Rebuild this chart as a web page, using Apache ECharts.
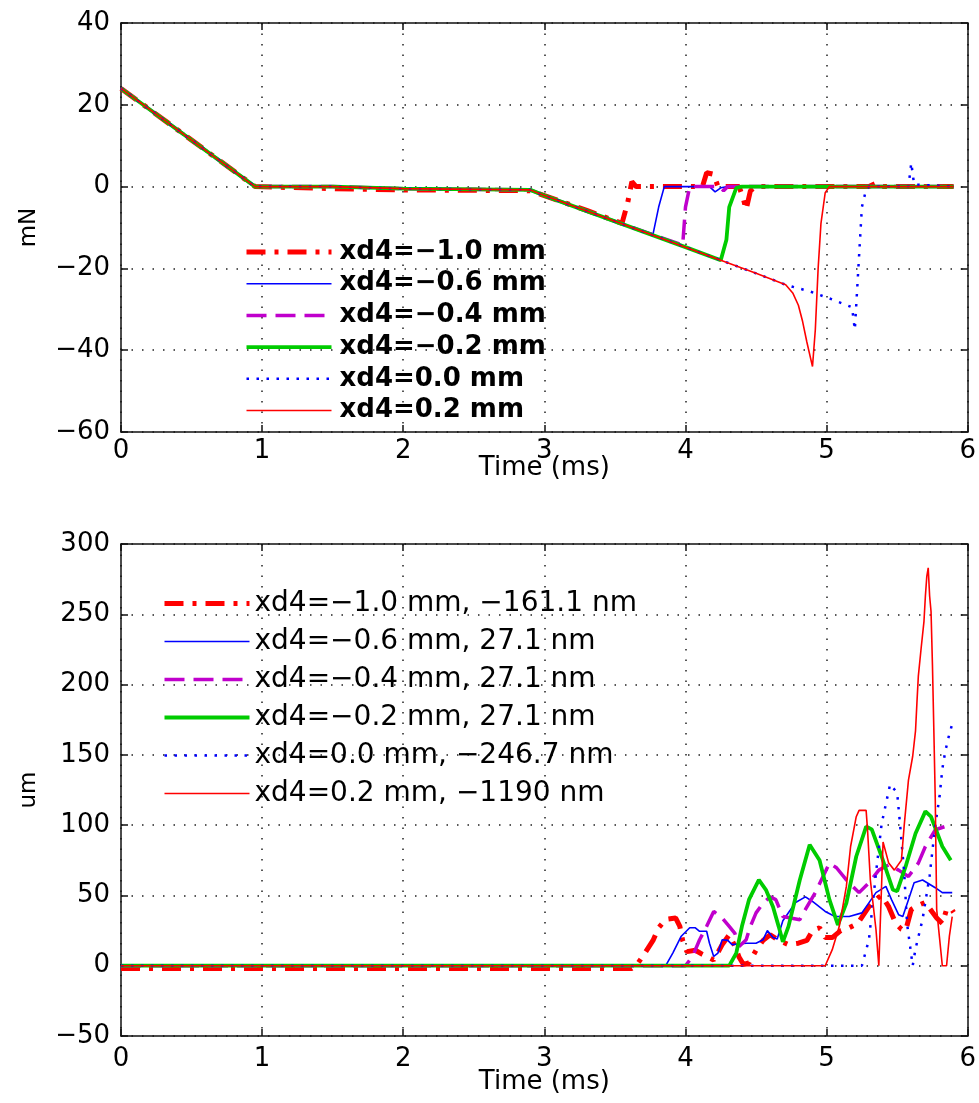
<!DOCTYPE html>
<html>
<head>
<meta charset="utf-8">
<title>force and displacement</title>
<script src="https://cdn.jsdelivr.net/npm/echarts@6/dist/echarts.min.js"></script>
<style>
  html, body { margin: 0; padding: 0; background: #fff; }
  #chart { width: 979px; height: 1103px; }
</style>
</head>
<body>
<div id="chart"></div>
<script>
// ---- data: [time ms, value] ----
// top: force (mN)
var forceM10 = [[0,24],[0.95,0],[1.5,-0.5],[2.0,-0.8],[2.9,-1.0],[3.0,-2.2],[3.3,-5.8],[3.55,-9],[3.59,-4],[3.62,1.2],[3.65,0],[4.12,0],[4.15,3.4],[4.2,3.0],[4.23,0],[4.38,0],[4.41,-3],[4.43,-5.6],[4.46,-1],[4.5,0],[5.3,0],[5.35,0.8],[5.4,0],[5.9,0]];
var forceM06 = [[0,24],[0.95,0],[1.5,0],[2.0,-0.5],[2.9,-0.8],[3.0,-2.2],[3.5,-8.5],[3.77,-11.6],[3.81,-5],[3.85,0],[4.17,0],[4.21,-1.3],[4.25,-0.3],[4.3,0],[5.9,0]];
var forceM04 = [[0,24],[0.95,0],[1.5,0],[2.0,-0.5],[2.9,-0.8],[3.0,-2.2],[3.5,-8.5],[3.98,-14.3],[4.0,-5],[4.03,0],[4.24,0],[4.27,-1],[4.3,0],[5.9,0]];
var forceM02 = [[0,24],[0.95,0],[1.5,0],[2.0,-0.5],[2.9,-0.8],[3.0,-2.2],[3.5,-8.5],[4.0,-14.8],[4.25,-18],[4.29,-13],[4.31,-5],[4.36,-0.3],[4.4,0],[5.9,0]];
var force00  = [[0,24],[0.95,0],[1.5,0],[2.0,-0.5],[2.9,-0.8],[3.0,-2.2],[3.5,-8.5],[4.0,-14.8],[4.25,-18],[4.5,-21.2],[4.71,-24],[4.76,-24.5],[4.88,-25.6],[5.04,-27.6],[5.18,-29.5],[5.2,-35],[5.23,-17],[5.25,-5],[5.28,-0.7],[5.3,0],[5.58,0],[5.6,5.8],[5.62,0.5],[5.9,0]];
var force02  = [[0,24],[0.95,0],[1.5,0],[2.0,-0.5],[2.9,-0.8],[3.0,-2.2],[3.5,-8.5],[4.0,-14.8],[4.25,-18],[4.5,-21.2],[4.71,-24],[4.76,-26],[4.8,-29],[4.83,-33],[4.86,-38],[4.9,-44],[4.92,-35],[4.94,-20],[4.96,-9],[4.99,-1.5],[5.02,0],[5.9,0]];

// bottom: displacement (um)
var dispM10 = [[0,-2],[3.62,-2],[3.65,0],[3.70,7],[3.77,18],[3.81,27],[3.86,33],[3.93,34],[3.96,28],[3.98,18],[4.01,10],[4.07,11],[4.12,8],[4.2,4],[4.26,15],[4.31,22],[4.35,14],[4.38,6],[4.41,1],[4.45,2],[4.5,11],[4.55,18],[4.6,22],[4.66,18],[4.73,15],[4.8,16],[4.86,18],[4.9,25],[4.95,27],[4.99,20],[5.04,20],[5.1,25],[5.16,27],[5.22,30],[5.3,42],[5.36,48],[5.39,50],[5.44,42],[5.49,30],[5.53,26],[5.56,25],[5.6,40],[5.65,43],[5.7,45],[5.75,38],[5.78,34],[5.82,30],[5.85,40],[5.88,41],[5.9,38]];
var dispM06 = [[0,0],[3.86,0],[3.91,9],[3.97,21],[4.03,27],[4.07,27],[4.10,24.5],[4.15,24.5],[4.17,16],[4.20,6.6],[4.23,9],[4.26,18.5],[4.3,18],[4.33,15],[4.43,16],[4.5,16],[4.55,18.5],[4.58,25],[4.62,20],[4.65,19],[4.69,32],[4.78,45],[4.85,49],[4.9,45.7],[4.99,38.6],[5.06,35],[5.16,35],[5.25,37.6],[5.35,52],[5.42,56.4],[5.46,47],[5.51,36.3],[5.54,35],[5.58,47],[5.62,59],[5.68,61],[5.77,55.5],[5.82,52],[5.89,52]];
var dispM04 = [[0,0],[4.0,0],[4.05,6.6],[4.10,18.5],[4.15,28],[4.2,38.6],[4.26,34],[4.31,28],[4.35,23],[4.38,13.7],[4.43,18.5],[4.46,28],[4.5,37.6],[4.55,44.6],[4.6,49],[4.64,47],[4.69,35],[4.81,32.7],[4.85,40],[4.92,52],[5.02,73],[5.07,69.7],[5.14,61],[5.23,52],[5.3,59],[5.37,68],[5.44,71.8],[5.51,68],[5.58,63.5],[5.65,73],[5.7,84.8],[5.77,96.7],[5.84,99],[5.88,98]];
var dispM02 = [[0,0],[4.31,0],[4.36,9],[4.40,28],[4.45,47],[4.52,61],[4.57,54],[4.62,42],[4.66,28],[4.69,17],[4.73,28],[4.81,61],[4.88,86],[4.95,75],[5.02,47],[5.08,29],[5.14,44.6],[5.21,77.7],[5.28,99],[5.32,97],[5.39,77.7],[5.47,54],[5.5,53],[5.56,70.6],[5.63,94],[5.70,109.8],[5.74,106],[5.82,84.8],[5.88,75]];
var disp00  = [[0,0],[5.25,0],[5.30,18.5],[5.35,66],[5.39,101],[5.45,129],[5.50,123],[5.52,101],[5.55,66],[5.57,30],[5.61,0],[5.63,12],[5.68,33],[5.73,64],[5.77,100],[5.80,120],[5.82,140],[5.84,152],[5.86,161],[5.89,172]];
var disp02  = [[0,0],[4.99,0],[5.04,11.4],[5.09,28],[5.14,56.4],[5.17,84.8],[5.21,106],[5.23,110.5],[5.28,110.5],[5.29,96.7],[5.31,61],[5.35,25.6],[5.37,0],[5.38,0],[5.40,88],[5.44,73],[5.48,68],[5.53,75],[5.55,100],[5.58,132],[5.61,149],[5.63,167],[5.64,187],[5.65,206],[5.67,226],[5.69,245],[5.70,263],[5.71,277],[5.72,283],[5.73,263],[5.74,252],[5.75,214],[5.76,167],[5.77,118],[5.78,40],[5.80,20],[5.82,0],[5.85,0],[5.87,21],[5.89,35]];

var forceNames = ['xd4=\u22121.0 mm','xd4=\u22120.6 mm','xd4=\u22120.4 mm','xd4=\u22120.2 mm','xd4=0.0 mm','xd4=0.2 mm'];
var dispNames = ['xd4=\u22121.0 mm, \u2212161.1 nm','xd4=\u22120.6 mm, 27.1 nm','xd4=\u22120.4 mm, 27.1 nm','xd4=\u22120.2 mm, 27.1 nm','xd4=0.0 mm, \u2212246.7 nm','xd4=0.2 mm, \u22121190 nm'];

// line look per curve (same order in both plots)
var looks = [
  {color:'#ff0000', width:5, type:[19,9,4,9]},
  {color:'#0000ff', width:1.6, type:'solid'},
  {color:'#c000cc', width:3.5, type:[20,9]},
  {color:'#00cc00', width:3.8, type:'solid'},
  {color:'#0000ff', width:2.5, type:[2.5,7.5]},
  {color:'#ff0000', width:1.6, type:'solid'}
];

var font = 'DejaVu Sans';
function minus(v){ return String(v).replace('-', '\u2212'); }

function mainX(grid, gap, margin){
  return {
    gridIndex: grid, type:'value', min:0, max:6, interval:1, position:'bottom',
    name:'Time (ms)', nameLocation:'middle', nameGap:gap, nameMoveOverlap:false,
    nameTextStyle:{fontFamily:font, fontSize:26, color:'#000'},
    axisLine:{show:true, onZero:false, lineStyle:{color:'#111', width:1.5}},
    axisTick:{show:true, inside:true, length:7, lineStyle:{color:'#111', width:1.5}},
    axisLabel:{fontFamily:font, fontSize:26, color:'#000', margin:margin, formatter:minus},
    splitLine:{show:true, lineStyle:{color:'#222', width:1.5, type:[1.5,9]}}
  };
}
function mainY(grid, lo, hi, step, title){
  return {
    gridIndex: grid, type:'value', min:lo, max:hi, interval:step, position:'left',
    name:title, nameLocation:'middle', nameGap:80, nameMoveOverlap:false,
    nameTextStyle:{fontFamily:font, fontSize:23, color:'#000'},
    axisLine:{show:true, onZero:false, lineStyle:{color:'#111', width:1.5}},
    axisTick:{show:true, inside:true, length:7, lineStyle:{color:'#111', width:1.5}},
    axisLabel:{fontFamily:font, fontSize:26, color:'#000', margin:11, formatter:minus},
    splitLine:{show:true, lineStyle:{color:'#222', width:1.5, type:[1.5,9]}}
  };
}
function frameX(grid){
  return {
    gridIndex: grid, type:'value', min:0, max:6, interval:1, position:'top',
    axisLine:{show:true, onZero:false, lineStyle:{color:'#111', width:1.5}},
    axisTick:{show:true, inside:true, length:7, lineStyle:{color:'#111', width:1.5}},
    axisLabel:{show:false}, splitLine:{show:false}
  };
}
function frameY(grid, lo, hi, step){
  return {
    gridIndex: grid, type:'value', min:lo, max:hi, interval:step, position:'right',
    axisLine:{show:true, onZero:false, lineStyle:{color:'#111', width:1.5}},
    axisTick:{show:true, inside:true, length:7, lineStyle:{color:'#111', width:1.5}},
    axisLabel:{show:false}, splitLine:{show:false}
  };
}

function makeSeries(names, datas, xi, yi){
  return names.map(function(n, i){
    var lk = looks[i];
    return {
      name:n, type:'line', data:datas[i], xAxisIndex:xi, yAxisIndex:yi,
      symbol:'none', showSymbol:false, smooth:false, animation:false,
      lineStyle:{color:lk.color, width:lk.width, type:lk.type},
      itemStyle:{color:lk.color}
    };
  });
}
// legend entries: line only, same width and dash as the curve
function legendItems(names){
  return names.map(function(n, i){
    var lk = looks[i];
    return {
      name:n,
      itemStyle:{opacity:0},
      lineStyle:{color:lk.color, width:lk.width, type:lk.type}
    };
  });
}

var chart = echarts.init(document.getElementById('chart'));
var option = {
  backgroundColor:'#fff',
  animation:false,
  grid:[
    {left:121, top:23, width:848, height:409},
    {left:121, top:544, width:848, height:492}
  ],
  xAxis:[mainX(0, 23, 6), frameX(0), mainX(1, 33, 10), frameX(1)],
  yAxis:[mainY(0, -60, 40, 20, 'mN'), frameY(0, -60, 40, 20), mainY(1, -50, 300, 50, 'um'), frameY(1, -50, 300, 50)],
  legend:[
    {
      data:legendItems(forceNames), orient:'vertical', left:244, top:239, padding:0,
      itemWidth:85, itemHeight:14, itemGap:5.7, selectedMode:false,
      textStyle:{fontFamily:font, fontWeight:'bold', fontSize:26, color:'#000', padding:[0,0,0,3]}
    },
    {
      data:legendItems(dispNames), orient:'vertical', left:162, top:589.5, padding:0,
      itemWidth:85, itemHeight:14, itemGap:10, selectedMode:false,
      textStyle:{fontFamily:font, fontSize:28, color:'#000', lineHeight:28}
    }
  ],
  series: makeSeries(forceNames, [forceM10, forceM06, forceM04, forceM02, force00, force02], 0, 0)
    .concat(makeSeries(dispNames, [dispM10, dispM06, dispM04, dispM02, disp00, disp02], 2, 2))
};
chart.setOption(option);
</script>
</body>
</html>
